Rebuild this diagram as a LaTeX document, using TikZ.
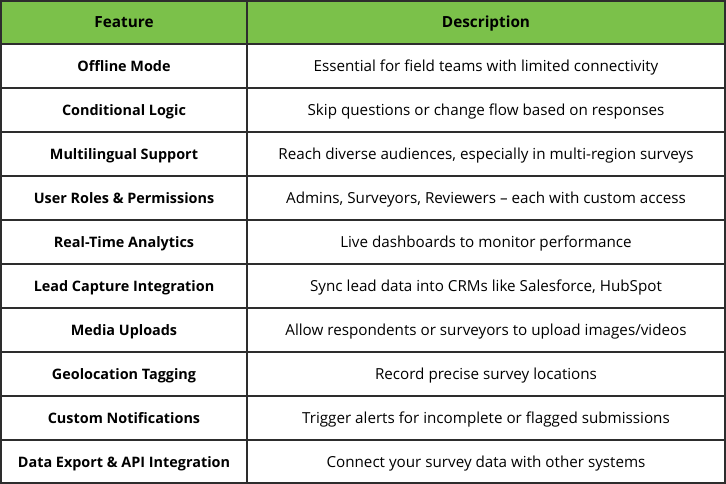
\documentclass[tikz,border=0pt]{standalone}
\usepackage{fontspec}
\setmainfont{Open Sans}
\definecolor{headgreen}{RGB}{123,193,74}
\definecolor{gridgray}{RGB}{45,45,45}
\begin{document}
\begin{tikzpicture}[
			x=0.75pt, y=-0.75pt,
			every node/.style={inner sep=0, text height=8pt, text depth=0pt,
				font=\fontsize{11.4}{13}\selectfont},
			feat/.style={font=\fontsize{10.8}{12}\selectfont\bfseries},
			head/.style={font=\fontsize{11.5}{13}\selectfont\bfseries},
			grid/.style={draw=gridgray, line width=1.5pt},
		]
		\useasboundingbox (0,0) rectangle (726,484);
		\fill[headgreen] (0,0) rectangle (726,44);
		% table lines
		\draw[grid] (0.75,0.75) rectangle (725.25,483.25);
		\foreach \y in {44,88,...,440}
			\draw[grid] (0,\y) -- (726,\y);
		\draw[grid] (247,0) -- (247,484);
		% header
		\node[head] (hfeat) at (124,22) {Feature};
		\node[head] (hdesc) at (486,22) {Description};
		% rows
		\node[feat] (f1) at (124,66) {Offline Mode};
		\node (d1) at (486,66) {Essential for field teams with limited connectivity};
		\node[feat] (f2) at (124,110) {Conditional Logic};
		\node (d2) at (486,110) {Skip questions or change flow based on responses};
		\node[feat] (f3) at (124,154) {Multilingual Support};
		\node (d3) at (486,154) {Reach diverse audiences, especially in multi-region surveys};
		\node[feat] (f4) at (124,198) {User Roles \& Permissions};
		\node (d4) at (486,198) {Admins, Surveyors, Reviewers – each with custom access};
		\node[feat] (f5) at (124,242) {Real-Time Analytics};
		\node (d5) at (486,242) {Live dashboards to monitor performance};
		\node[feat] (f6) at (124,286) {Lead Capture Integration};
		\node (d6) at (486,286) {Sync lead data into CRMs like Salesforce, HubSpot};
		\node[feat] (f7) at (124,330) {Media Uploads};
		\node (d7) at (486,330) {Allow respondents or surveyors to upload images/videos};
		\node[feat] (f8) at (124,374) {Geolocation Tagging};
		\node (d8) at (486,374) {Record precise survey locations};
		\node[feat] (f9) at (124,418) {Custom Notifications};
		\node (d9) at (486,418) {Trigger alerts for incomplete or flagged submissions};
		\node[feat] (f10) at (124,462) {Data Export \& API Integration};
		\node (d10) at (486,462) {Connect your survey data with other systems};
		\end{tikzpicture}
\end{document}
